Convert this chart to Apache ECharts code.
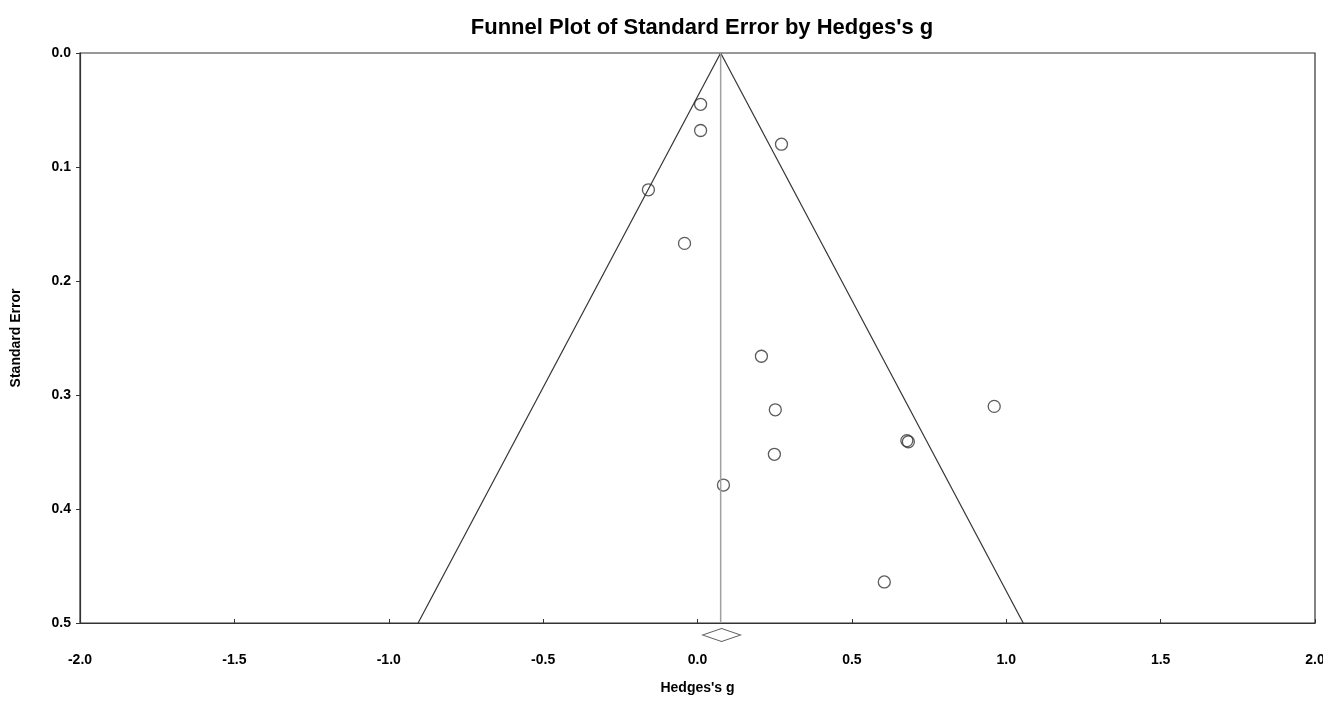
<!DOCTYPE html>
<html>
<head>
<meta charset="utf-8">
<script src="https://cdn.jsdelivr.net/npm/echarts@6.0.0/dist/echarts.min.js"></script>
<style>
  html, body { margin: 0; padding: 0; background: #fff; }
  #main { width: 1323px; height: 701px; }
</style>
</head>
<body>
<div id="main"></div>
<script>
// studies: [Hedges's g, standard error]
const studies = [
  [0.010, 0.045],
  [0.010, 0.068],
  [0.272, 0.080],
  [-0.159, 0.120],
  [-0.042, 0.167],
  [0.207, 0.266],
  [0.252, 0.313],
  [0.961, 0.310],
  [0.678, 0.340],
  [0.683, 0.341],
  [0.249, 0.352],
  [0.084, 0.379],
  [0.605, 0.464]
]
// funnel edges and the overall effect line
const funnelLeft = [[0.075, 0], [-0.905, 0.5]]
const funnelRight = [[0.075, 0], [1.055, 0.5]]
const meanLine = [[0.075, 0], [0.075, 0.5]]
const summary = [[0.078, 0.5]]

const xTicks = [-2.0, -1.5, -1.0, -0.5, 0.0, 0.5, 1.0, 1.5, 2.0]
const yTicks = [0.0, 0.1, 0.2, 0.3, 0.4, 0.5]

const font = 'Liberation Sans, Arial, sans-serif'
const ink = '#333'

const chart = echarts.init(document.getElementById('main'))
chart.setOption({
  backgroundColor: '#fff',
  animation: false,
  title: {
    text: "Funnel Plot of Standard Error by Hedges's g",
    left: 697, top: 12, textAlign: 'center',
    textStyle: { fontFamily: font, fontWeight: 'bold', fontSize: 22, color: '#000' }
  },
  grid: {
    left: 80, right: 8, top: 53, bottom: 78,
    outerBoundsMode: 'none', containLabel: false,
    show: true, borderColor: ink, borderWidth: 1.2, backgroundColor: 'transparent'
  },
  xAxis: {
    type: 'value',
    min: xTicks[0], max: xTicks[xTicks.length - 1], interval: 0.5,
    name: "Hedges's g", nameLocation: 'middle', nameGap: 58,
    nameTextStyle: { fontFamily: font, fontWeight: 'bold', fontSize: 14, color: '#000' },
    axisLine: { onZero: false, lineStyle: { color: ink, width: 1.2 } },
    axisTick: { inside: true, length: 4, lineStyle: { color: ink } },
    axisLabel: { margin: 30, fontFamily: font, fontWeight: 'bold', fontSize: 14, color: '#000',
      formatter: v => v.toFixed(1) },
    splitLine: { show: false }
  },
  yAxis: {
    type: 'value', inverse: true,
    min: yTicks[0], max: yTicks[yTicks.length - 1], interval: 0.1,
    name: 'Standard Error', nameLocation: 'middle', nameGap: 57,
    nameTextStyle: { fontFamily: font, fontWeight: 'bold', fontSize: 14, color: '#000' },
    axisLine: { show: true, onZero: false, lineStyle: { color: ink, width: 1.2 } },
    axisTick: { show: true, length: 4, lineStyle: { color: ink } },
    axisLabel: { margin: 9, fontFamily: font, fontWeight: 'bold', fontSize: 14, color: '#000',
      formatter: v => v.toFixed(1) },
    splitLine: { show: false }
  },
  series: [
    { type: 'line', data: funnelLeft, symbol: 'none', lineStyle: { color: ink, width: 1.2 }, silent: true },
    { type: 'line', data: funnelRight, symbol: 'none', lineStyle: { color: ink, width: 1.2 }, silent: true },
    { type: 'line', data: meanLine, symbol: 'none', lineStyle: { color: '#a0a0a0', width: 1.5 }, silent: true },
    {
      type: 'scatter', data: studies, symbol: 'circle', symbolSize: 12,
      itemStyle: { color: 'rgba(0,0,0,0)', borderColor: ink, borderWidth: 1.3 }
    },
    {
      type: 'scatter', data: summary, symbol: 'diamond', symbolSize: [38, 13],
      symbolOffset: [0, 12], clip: false,
      itemStyle: { color: '#fff', borderColor: ink, borderWidth: 1.2 }
    }
  ]
})
</script>
</body>
</html>
